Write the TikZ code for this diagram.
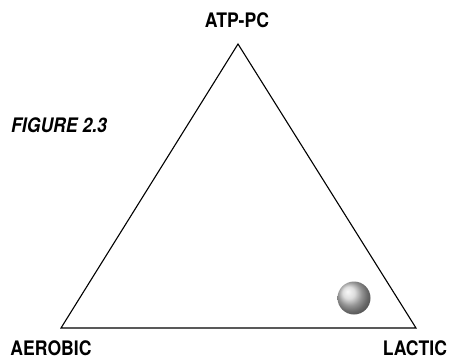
\documentclass[tikz,border=0pt]{standalone}
\usepackage{fontspec}
\newfontfamily\labelfont[FakeStretch=0.88]{TeX Gyre Heros}
\usepackage{tikz}
\usetikzlibrary{positioning}

\begin{document}
\begin{tikzpicture}[
  x=1pt, y=-1pt,
  vertex/.style={
    font=\labelfont\bfseries\fontsize{20}{21}\selectfont,
    inner sep=0pt},
  caption/.style={
    font=\labelfont\bfseries\itshape\fontsize{20}{21}\selectfont,
    inner sep=0pt, anchor=west},
  side/.style={
    black, line width=1.1pt, line join=miter}
]
\useasboundingbox (0,0) rectangle (454,361);

\coordinate (top)   at (238,44);
\coordinate (left)  at (61,328);
\coordinate (right) at (416,328);

\node[vertex] (atp) at (237,20) {ATP-PC};
\node[vertex] (aer) at (51,348) {AEROBIC};
\node[vertex] (lac) at (415,348) {LACTIC};
\node[caption] (fig) at (11,125) {FIGURE 2.3};

\draw[side] (top) -- (left) -- (right) -- cycle;

\shade[ball color=gray!35] (354,298) circle (16.5);
\end{tikzpicture}
\end{document}
